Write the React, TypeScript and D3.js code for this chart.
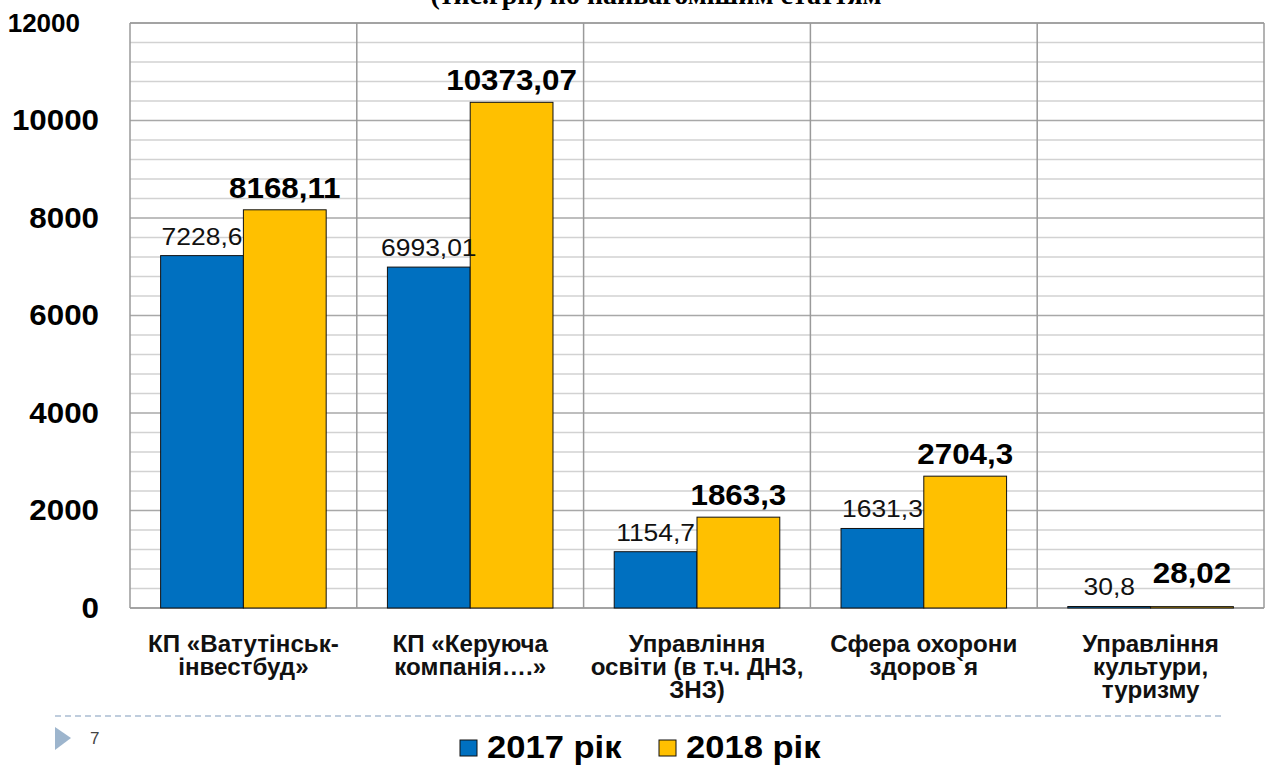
import React, { useEffect, useRef } from 'react';
import * as d3 from 'd3';

// data
const categories = [
  ['КП «Ватутінськ-', 'інвестбуд»'],
  ['КП «Керуюча', 'компанія….»'],
  ['Управління', 'освіти (в т.ч. ДНЗ,', 'ЗНЗ)'],
  ['Сфера охорони', 'здоров`я'],
  ['Управління', 'культури,', 'туризму'],
];
const values2017 = [7228.6, 6993.01, 1154.7, 1631.3, 30.8];
const values2018 = [8168.11, 10373.07, 1863.3, 2704.3, 28.02];
const labels2017 = ['7228,6', '6993,01', '1154,7', '1631,3', '30,8'];
const labels2018 = ['8168,11', '10373,07', '1863,3', '2704,3', '28,02'];
const seriesNames = ['2017 рік', '2018 рік'];
const colors = ['#0070C0', '#FFC000'];
const yTicks = [0, 2000, 4000, 6000, 8000, 10000, 12000];

const W = 1267, H = 765;
const FONT = 'Liberation Sans, Arial, sans-serif';

function App() {
  const ref = useRef<SVGSVGElement>(null);

  useEffect(() => {
    const svg = d3.select(ref.current);
    svg.selectAll('*').remove();

    const left = 130, right = 1264, top = 23, bottom = 608;
    const idx = categories.map((_, i) => i);

    const x = d3.scaleBand<number>().domain(idx).range([left, right])
      .paddingInner(0.27).paddingOuter(0.135);
    const xs = d3.scaleBand<number>().domain([0, 1]).range([0, x.bandwidth()]);
    const y = d3.scaleLinear().domain([0, 12000]).range([bottom, top]);

    // slide text is a bit wider than the font, so stretch it horizontally
    const stretched = (sel: any, sx: number) =>
      sel.attr('transform', function (this: SVGTextElement) {
        const tx = +(this.getAttribute('data-x') || 0);
        const ty = +(this.getAttribute('data-y') || 0);
        return `translate(${tx},${ty}) scale(${sx},1)`;
      });

    // title (cut off at the top of the slide)
    svg.append('text')
      .attr('x', 656).attr('y', 4)
      .attr('text-anchor', 'middle')
      .attr('font-family', 'Liberation Serif, Times New Roman, serif')
      .attr('font-weight', 'bold')
      .attr('font-size', 28)
      .text('(тис.грн) по найвагомішим статтям');

    // grid
    const g = svg.append('g');
    g.selectAll('line.minor')
      .data(d3.range(0, 12001, 400))
      .join('line')
      .attr('x1', left).attr('x2', right)
      .attr('y1', d => y(d)).attr('y2', d => y(d))
      .attr('stroke', d => d % 2000 === 0 ? '#a8a8a8' : '#d2d2d2')
      .attr('stroke-width', 1.5);

    const step = x.step();
    g.selectAll('line.vert')
      .data(d3.range(0, categories.length + 1))
      .join('line')
      .attr('x1', i => left + i * step).attr('x2', i => left + i * step)
      .attr('y1', top).attr('y2', bottom)
      .attr('stroke', '#9a9a9a')
      .attr('stroke-width', 1.5);
    g.append('line')
      .attr('x1', left).attr('x2', right)
      .attr('y1', top).attr('y2', top)
      .attr('stroke', '#9a9a9a').attr('stroke-width', 1.5);
    g.append('line')
      .attr('x1', left).attr('x2', right)
      .attr('y1', bottom).attr('y2', bottom)
      .attr('stroke', '#9a9a9a').attr('stroke-width', 1.5);

    // bars
    const series = [values2017, values2018];
    series.forEach((vals, s) => {
      svg.append('g').selectAll('rect')
        .data(vals)
        .join('rect')
        .attr('x', (_, i) => x(i)! + xs(s)!)
        .attr('y', d => y(d))
        .attr('width', xs.bandwidth())
        .attr('height', d => bottom - y(d))
        .attr('fill', colors[s])
        .attr('stroke', '#111')
        .attr('stroke-width', 1);
    });

    // data labels
    stretched(svg.append('g').selectAll('text')
      .data(values2017)
      .join('text')
      .attr('data-x', (_, i) => x(i)! + xs(0)! + xs.bandwidth() / 2)
      .attr('data-y', d => y(d) - 11)
      .attr('text-anchor', 'middle')
      .attr('font-family', FONT)
      .attr('font-size', 23)
      .attr('fill', '#111')
      .text((_, i) => labels2017[i]), 1.15);

    stretched(svg.append('g').selectAll('text')
      .data(values2018)
      .join('text')
      .attr('data-x', (_, i) => x(i)! + xs(1)! + xs.bandwidth() / 2)
      .attr('data-y', d => Math.min(y(d) - 12, 583))
      .attr('text-anchor', 'middle')
      .attr('font-family', FONT)
      .attr('font-weight', 'bold')
      .attr('font-size', 29)
      .attr('fill', '#000')
      .text((_, i) => labels2018[i]), 1.08);

    // y axis labels
    const yAxis = svg.append('g')
      .attr('transform', `translate(${left - 31},0)`)
      .call(d3.axisLeft(y).tickValues(yTicks).tickSize(0).tickPadding(0).tickFormat(d3.format('d')));
    yAxis.select('.domain').remove();
    yAxis.selectAll('text')
      .attr('font-family', FONT)
      .attr('font-weight', 'bold')
      .attr('font-size', 29)
      .attr('fill', '#000')
      .attr('transform', 'scale(1.08,1)');
    yAxis.selectAll<SVGGElement, number>('.tick')
      .filter(d => d === 12000)
      .select('text')
      .attr('font-size', 26)
      .attr('transform', null)
      .attr('dx', -19);

    // category labels
    const cat = svg.append('g').selectAll('g')
      .data(categories)
      .join('g')
      .attr('transform', (_, i) => `translate(${x(i)! + x.bandwidth() / 2},652) scale(1.05,1)`);
    cat.selectAll('text')
      .data(d => d)
      .join('text')
      .attr('y', (_, j) => j * 23)
      .attr('text-anchor', 'middle')
      .attr('font-family', FONT)
      .attr('font-weight', 'bold')
      .attr('font-size', 23)
      .attr('fill', '#111')
      .text(d => d);

    // slide footer: dashed rule, arrow, page number
    svg.append('line')
      .attr('x1', 55).attr('x2', 1222)
      .attr('y1', 716).attr('y2', 716)
      .attr('stroke', '#aabdd2').attr('stroke-width', 1.5)
      .attr('stroke-dasharray', '6,4');
    svg.append('path')
      .attr('d', 'M55,727 L71,738 L55,750 Z')
      .attr('fill', '#9db5cd');
    svg.append('text')
      .attr('x', 90).attr('y', 744)
      .attr('font-family', FONT)
      .attr('font-size', 17)
      .attr('fill', '#444')
      .text('7');

    // legend
    const legendX = [460, 659];
    seriesNames.forEach((name, s) => {
      const lg = svg.append('g').attr('transform', `translate(${legendX[s]},740)`);
      lg.append('rect')
        .attr('width', 17).attr('height', 16)
        .attr('fill', colors[s]).attr('stroke', '#111').attr('stroke-width', 1);
      lg.append('text')
        .attr('transform', 'translate(27,18) scale(1.08,1)')
        .attr('font-family', FONT)
        .attr('font-weight', 'bold')
        .attr('font-size', 32)
        .attr('fill', '#000')
        .text(name);
    });
  }, []);

  return (
    <svg ref={ref} width={W} height={H}
      style={{ position: 'absolute', left: 0, top: 0, background: '#fff' }} />
  );
}

export default App;
